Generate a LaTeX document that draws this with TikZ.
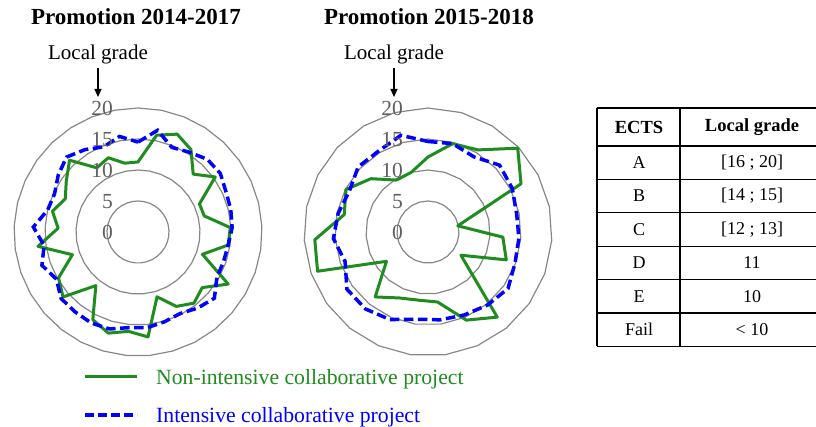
\documentclass[tikz,border=0pt]{standalone}
\usepackage{fontspec}
\setmainfont{Liberation Serif}
\usetikzlibrary{arrows.meta}
\definecolor{gridgray}{RGB}{135,135,135}
\definecolor{labgray}{RGB}{95,95,95}
\definecolor{ngreen}{RGB}{30,140,30}
\definecolor{nblue}{RGB}{0,0,255}
\newcommand\myradargrid[3]{%
  \foreach \rr in {5,10,15,20} {
    \draw[gridline] ({#1},{#2-\rr*6.2}) \foreach \k in {1,...,#3} { -- ({#1+\rr*6.2*sin(\k*360/#3)},{#2-\rr*6.2*cos(\k*360/#3)}) } -- cycle;
  }%
}
\newcommand\myradardata[6]{%
  \foreach \v [count=\i from 0] in {#6} { \coordinate (#1-\i) at ({#2+\v*6.2*sin(\i*360/#4)},{#3-\v*6.2*cos(\i*360/#4)}); }
  \pgfmathtruncatemacro\mylastidx{#4-1}
  \draw[#5] (#1-0) \foreach \j in {1,...,\mylastidx} { -- (#1-\j) } -- cycle;
}
\newcommand\myscale[2]{%
  \foreach \vv in {0,5,10,15,20} { \node[scalelab] (#2s\vv) at ({#1-25},{232-\vv*6.2+7.3}) {\vv}; }%
}
\begin{document}
\begin{tikzpicture}[x=1pt,y=-1pt,
  gridline/.style={draw=gridgray, line width=1.2pt},
  gline/.style={draw=ngreen, line width=3pt, line join=round},
  bline/.style={draw=nblue, line width=3.5pt, dash pattern=on 9.5pt off 4.5pt},
  scalelab/.style={text=labgray, font=\fontsize{21.5}{22}\selectfont, anchor=base east, inner sep=0pt},
  titletext/.style={font=\bfseries\fontsize{23}{24}\selectfont, anchor=base, inner sep=0pt},
  axlab/.style={font=\fontsize{21}{22}\selectfont, anchor=base, inner sep=0pt},
  arr/.style={-{Triangle[length=8pt,width=7pt]}, line width=1.2pt},
  tabline/.style={line width=1.2pt},
  tabhead/.style={font=\bfseries\fontsize{18.5}{20}\selectfont, inner sep=0pt},
  tabtext/.style={font=\fontsize{18}{20}\selectfont, inner sep=0pt},
  legtext/.style={font=\fontsize{21.7}{22}\selectfont, anchor=base west, inner sep=0pt}
]
\useasboundingbox (0,0) rectangle (816,427);

% titles
\node[titletext] (t1) at (136,25) {Promotion 2014-2017};
\node[titletext] (t2) at (429,25) {Promotion 2015-2018};
\node[axlab] (lg1) at (98,60) {Local grade};
\node[axlab] (lg2) at (394,60) {Local grade};
\coordinate (a1s) at (98,68); \coordinate (a1e) at (98,97);
\coordinate (a2s) at (394,68); \coordinate (a2e) at (394,97);
\draw[arr] (a1s) -- (a1e);
\draw[arr] (a2s) -- (a2e);

% left chart
\myradargrid{138}{232}{33}
\myradardata{LG}{138}{232}{33}{gline}{11.3,15.9,17.0,15.8,12.9,15.3,10.9,11.0,14.9,14.7,11.0,16.8,13.7,14.6,13.5,10.9,17.0,16.1,17.0,15.9,11.0,16.0,14.8,11.2,16.3,12.9,14.2,12.9,14.2,16.0,12.3,12.9,11.3}
\myradardata{LB}{138}{232}{33}{bline}{14.5,16.7,14.7,15.3,16.2,16.3,15.6,15.4,15.2,14.7,14.6,14.7,16.3,15.6,14.8,15.1,15.5,15.5,16.3,16.5,16.4,16.4,15.2,16.4,15.3,16.9,15.0,14.8,15.8,16.7,15.8,14.8,15.7}
\myscale{138}{L}

% right chart
\myradargrid{428}{232}{23}
\myradardata{RG}{428}{232}{23}{gline}{12.1,14.8,15.5,19.8,16.9,4.9,12.1,13.4,6.5,17.7,15.5,11.4,11.1,11.6,13.5,8.2,18.9,18.3,13.8,14.9,12.6,9.8,10.0}
\myradardata{RB}{428}{232}{23}{bline}{14.6,14.8,14.2,15.8,15.3,14.6,14.7,14.9,15.8,15.2,14.6,14.3,14.2,15.4,16.0,16.0,14.2,15.3,14.8,14.3,15.4,15.3,16.2}
\myscale{428}{R}

% legend
\coordinate (lgs1) at (85,376); \coordinate (lge1) at (137,376);
\coordinate (lgs2) at (85,415); \coordinate (lge2) at (137,415);
\draw[gline] (lgs1) -- (lge1);
\draw[draw=nblue, line width=3.5pt, dash pattern=on 9pt off 4pt] (lgs2) -- (lge2);
\node[legtext, text=ngreen] (leg1) at (156,384) {Non-intensive collaborative project};
\node[legtext, text=nblue] (leg2) at (156,422) {Intensive collaborative project};

% table
\foreach \yy in {108,146,179.4,212.8,246.2,279.6,313,346.4} { \draw[tabline] (597,\yy) -- (816,\yy); }
\foreach \xx in {597,680} { \draw[tabline] (\xx,108) -- (\xx,346.4); }
\node[tabhead] (h1) at (639,127) {ECTS};
\node[tabhead] (h2) at (752,127) {Local grade};
\node[tabtext] (c1a) at (639,162.7) {A};
\node[tabtext] (c2a) at (752,162.7) {[16 ; 20]};
\node[tabtext] (c1b) at (639,196.1) {B};
\node[tabtext] (c2b) at (752,196.1) {[14 ; 15]};
\node[tabtext] (c1c) at (639,229.5) {C};
\node[tabtext] (c2c) at (752,229.5) {[12 ; 13]};
\node[tabtext] (c1d) at (639,262.9) {D};
\node[tabtext] (c2d) at (752,262.9) {11};
\node[tabtext] (c1e) at (639,296.3) {E};
\node[tabtext] (c2e) at (752,296.3) {10};
\node[tabtext] (c1f) at (639,329.7) {Fail};
\node[tabtext] (c2f) at (752,329.7) {\textless{} 10};
\end{tikzpicture}
\end{document}
